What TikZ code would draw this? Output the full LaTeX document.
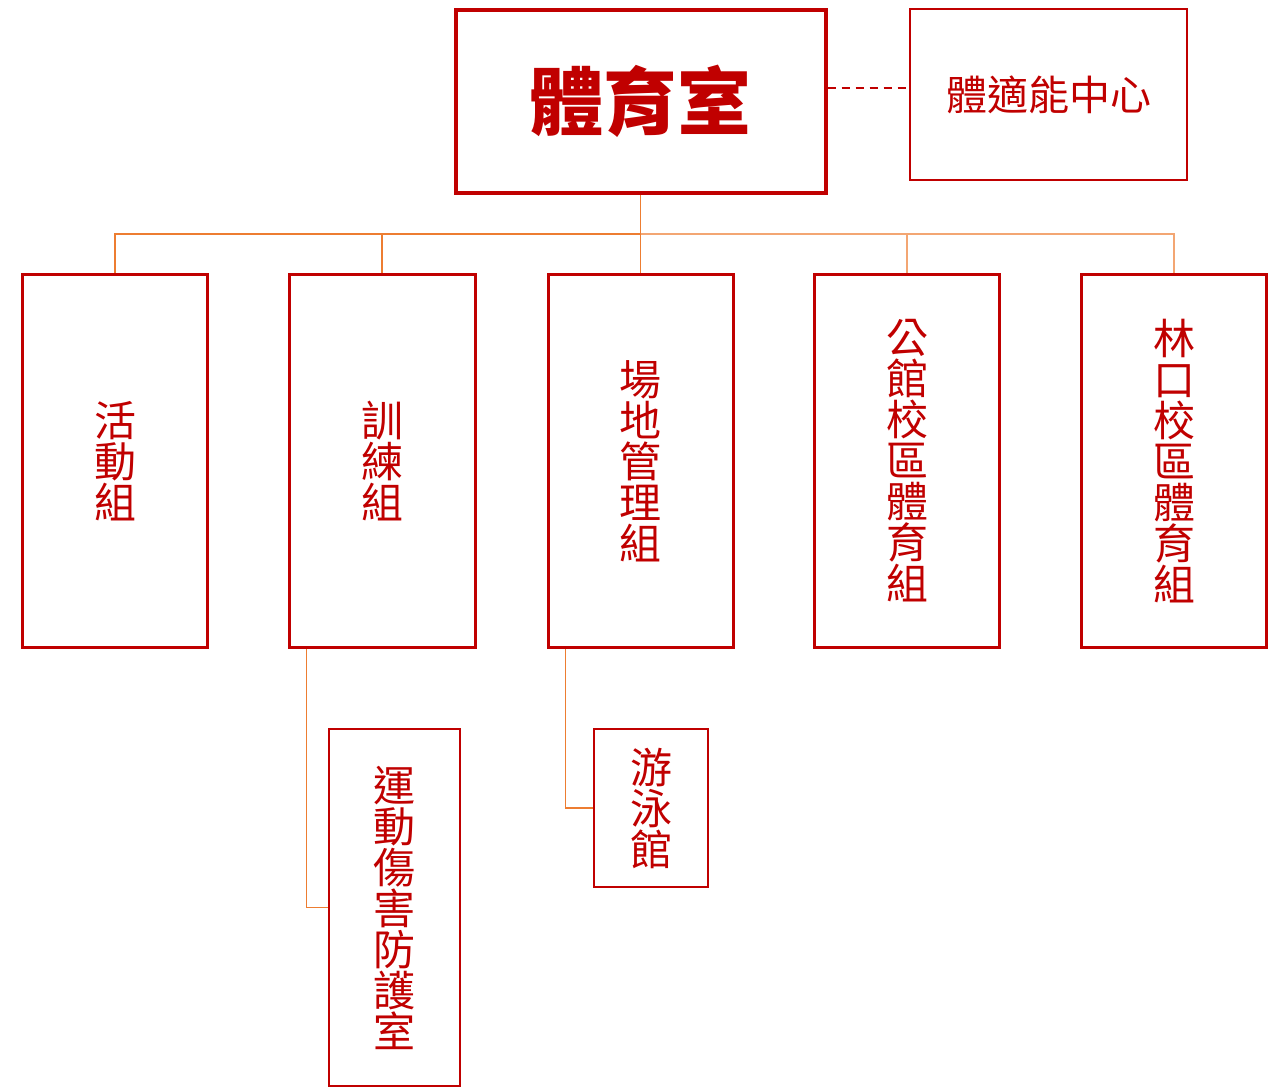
\documentclass[tikz,border=0pt]{standalone}
\usepackage{fontspec}
\newfontfamily\cjk{Noto Sans CJK TC}
\begin{document}
\definecolor{dred}{HTML}{C00000}
\definecolor{corange}{HTML}{ED7D31}
\definecolor{lorange}{HTML}{F3A673}
\begin{tikzpicture}[x=1pt,y=-1pt,
  box/.style={draw=dred,rectangle,inner sep=0pt,text=dred,align=center,
    font=\cjk\fontsize{42}{41}\selectfont},
  conn/.style={draw=corange,line width=1.5pt},
  lconn/.style={draw=lorange,line width=1.5pt}]
\useasboundingbox (0,0) rectangle (1281,1090);
\node[box,line width=4pt,minimum width=370pt,minimum height=183pt,
  font=\cjk\bfseries\fontsize{74}{74}\selectfont] (top) at (640.5,101.5) {體育室};
\node[box,line width=2pt,minimum width=277pt,minimum height=171pt,
  font=\cjk\fontsize{41}{41}\selectfont] (fit) at (1048.5,94.5) {體適能中心};
\node[box,line width=3pt,minimum width=185pt,minimum height=373pt] (c1) at (115,461) {活\\動\\組};
\node[box,line width=3pt,minimum width=186pt,minimum height=373pt] (c2) at (382,461) {訓\\練\\組};
\node[box,line width=3pt,minimum width=185pt,minimum height=373pt] (c3) at (640.5,461) {場\\地\\管\\理\\組};
\node[box,line width=3pt,minimum width=185pt,minimum height=373pt] (c4) at (907,461) {公\\館\\校\\區\\體\\育\\組};
\node[box,line width=3pt,minimum width=185pt,minimum height=373pt] (c5) at (1174,461) {林\\口\\校\\區\\體\\育\\組};
\node[box,line width=2pt,minimum width=131pt,minimum height=357pt] (s1) at (394,907.5) {運\\動\\傷\\害\\防\\護\\室};
\node[box,line width=2pt,minimum width=114pt,minimum height=158pt] (s2) at (651,808) {游\\泳\\館};
\coordinate (bus) at (640.5,234);
\draw[conn] (top.south) -- (bus);
\draw[conn] (bus) -| (c1.north);
\draw[conn] (bus) -| (c2.north);
\draw[conn] (bus) -- (c3.north);
\draw[lconn] (bus) -| (c4.north);
\draw[lconn] (bus) -| (c5.north);
\draw[conn] ([xshift=19pt]c2.south west) |- (s1.west);
\draw[conn] ([xshift=19pt]c3.south west) |- (s2.west);
\coordinate (dashend) at ([yshift=6.5pt]fit.west);
\draw[draw=dred,line width=2pt,dash pattern=on 8pt off 6pt]
  (top.east |- dashend) -- (dashend);
\end{tikzpicture}
\end{document}
